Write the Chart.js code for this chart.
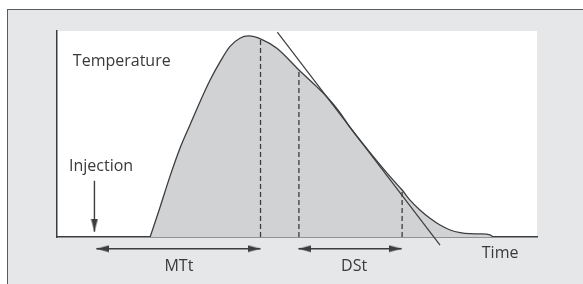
<!DOCTYPE html>
<html>
<head>
<meta charset="utf-8">
<script src="https://cdn.jsdelivr.net/npm/chart.js@4.4.1/dist/chart.umd.min.js"></script>
<style>
  html, body { margin: 0; padding: 0; background: #fff; }
  #wrap { position: relative; width: 583px; height: 284px; overflow: hidden; }
  #frame { position: absolute; left: 7px; top: 9px; right: -4px; bottom: -4px;
           background: #e6e7e8; border-top: 1.5px solid #5a5b5d; border-left: 1.5px solid #5a5b5d; }
  canvas { position: absolute; left: 0; top: 0; }
</style>
</head>
<body>
<div id="wrap">
  <div id="frame"></div>
  <canvas id="c" width="583" height="284"></canvas>
</div>
<script>
// thermodilution curve, arbitrary units (time 0-100, temperature 0-100)
const curveX = [19.4, 21.5, 23.5, 25.6, 27.7, 29.8, 31.9, 34.0, 36.0, 38.1, 39.9, 42.5, 45.8, 50.4, 54.1, 56.2, 58.8, 61.0, 64.8, 69.4, 71.9, 73.5, 75.6, 77.7, 79.8, 81.9, 84.0, 86.0, 88.1, 90.2, 90.9];
const curveY = [0, 14.7, 29.2, 43.0, 54.4, 65.7, 76.2, 85.1, 92.4, 96.5, 97.6, 96.1, 91.6, 81.1, 73.0, 68.1, 60.9, 53.4, 42.2, 29.3, 22.8, 18.0, 13.1, 9.1, 5.8, 3.4, 2.1, 1.6, 1.5, 1.0, 0];

// dashed markers (peak, start and end of downslope)
const markerX = [42.4, 50.4, 71.9];
const markerY = [96.1, 81.1, 22.8];

// tangent to the downslope
const tangentX = [45.9, 79.8];
const tangentY = [99.4, -3.9];

// injection arrow and time spans
const injectionX = 7.8;
const injectionY = [27.3, 2.6];
const mttX = [8.2, 42.4];
const dstX = [50.3, 71.8];
const spanY = -5.7;

const ink = '#3d3d3f';

// arrow head image, tip in the middle pointing left
function arrowHead() {
  const cv = document.createElement('canvas');
  cv.width = 26; cv.height = 8;
  const g = cv.getContext('2d');
  g.fillStyle = ink;
  g.beginPath();
  g.moveTo(13, 4);
  g.lineTo(26, 0.5);
  g.lineTo(26, 7.5);
  g.closePath();
  g.fill();
  return cv;
}
const head = arrowHead();

const pts = (xs, ys) => xs.map((x, i) => ({ x: x, y: ys[i] }));

const datasets = [];
markerX.forEach((x, i) => {
  datasets.push({
    data: [{ x: x, y: 0 }, { x: x, y: markerY[i] }],
    borderColor: ink, borderWidth: 1.3, borderDash: [5, 3],
    pointRadius: 0
  });
});
datasets.push({
  data: pts(tangentX, tangentY),
  borderColor: ink, borderWidth: 1.2, pointRadius: 0, clip: false
});
datasets.push({
  data: [{ x: injectionX, y: injectionY[0] }, { x: injectionX, y: injectionY[1] }],
  borderColor: ink, borderWidth: 1.4,
  pointStyle: head, pointRadius: [0, 14], pointRotation: [0, -90], pointBorderWidth: 0
});
[mttX, dstX].forEach(xs => {
  datasets.push({
    data: [{ x: xs[0], y: spanY }, { x: xs[1], y: spanY }],
    borderColor: ink, borderWidth: 1.6, clip: false,
    pointStyle: head, pointRadius: 14, pointRotation: [0, 180], pointBorderWidth: 0
  });
});
datasets.push({
  data: pts(curveX, curveY),
  borderColor: ink, borderWidth: 1.3,
  backgroundColor: '#d1d2d4', fill: 'origin',
  cubicInterpolationMode: 'monotone', pointRadius: 0
});

const labels = [
  { text: 'Temperature', x: 3.3, y: 85.1, align: 'left' },
  { text: 'Injection', x: 2.5, y: 34.1, align: 'left' },
  { text: 'MTt', x: 25.4, y: -14.4, align: 'center' },
  { text: 'DSt', x: 61.9, y: -14.4, align: 'center' },
  { text: 'Time', x: 88.5, y: -7.9, align: 'left' }
];

const diagram = {
  id: 'diagram',
  beforeDraw(chart) {
    const a = chart.chartArea, ctx = chart.ctx;
    ctx.save();
    ctx.fillStyle = '#ffffff';
    ctx.fillRect(a.left, a.top, a.right - a.left, a.bottom - a.top);
    ctx.restore();
  },
  afterDraw(chart) {
    const ctx = chart.ctx, sx = chart.scales.x, sy = chart.scales.y;
    ctx.save();
    ctx.fillStyle = '#3a3a3c';
    ctx.font = '16px "Open Sans"';
    ctx.textBaseline = 'middle';
    labels.forEach(l => {
      ctx.textAlign = l.align;
      ctx.fillText(l.text, sx.getPixelForValue(l.x), sy.getPixelForValue(l.y));
    });
    ctx.restore();
  }
};

const axis = (min, max, pos) => ({
  type: 'linear', position: pos, min: min, max: max,
  grid: { display: false, drawTicks: false },
  border: { display: true, color: ink, width: 1.5 },
  ticks: { display: false }
});

new Chart(document.getElementById('c').getContext('2d'), {
  type: 'line',
  data: { datasets: datasets },
  options: {
    responsive: false,
    animation: false,
    events: [],
    layout: { padding: { left: 57, top: 31, right: 46, bottom: 47 } },
    scales: { x: axis(0, 100, 'bottom'), y: axis(0, 100, 'left') },
    plugins: { legend: { display: false }, tooltip: { enabled: false } }
  },
  plugins: [diagram]
});
</script>
</body>
</html>
